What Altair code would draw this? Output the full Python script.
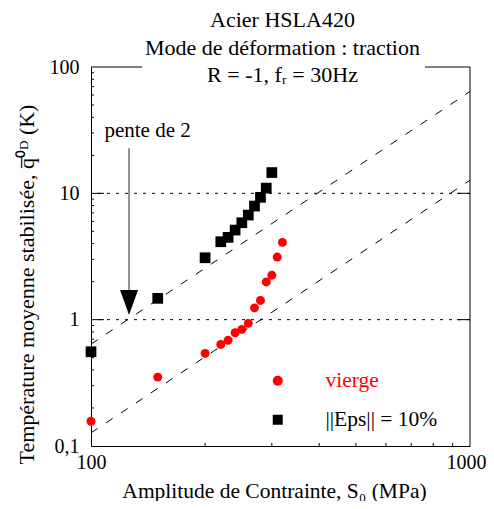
import altair as alt
import pandas as pd

FONT = "Liberation Serif"

# ---- data ----
eps_s = [100, 150, 200, 220, 230, 240, 250, 260, 270, 280, 290, 300]
eps_t = [0.557, 1.475, 3.09, 4.14, 4.48, 5.12, 5.85, 6.73, 7.93, 9.30, 11.0, 14.6]

vir_s = [100, 150, 200, 220, 230, 240, 250, 260, 270, 280, 290, 300, 310, 320]
vir_t = [0.157, 0.351, 0.541, 0.637, 0.686, 0.788, 0.838, 0.935, 1.24, 1.42, 1.99, 2.25, 3.13, 4.09]

series_names = ["vierge", "||Eps|| = 10%"]

# slope-2 reference lines (end points)
ref_s = [100, 1000, 100, 1000]
ref_t = [0.64, 64.0, 0.127, 12.7]
ref_g = ["haut", "haut", "bas", "bas"]

grid_t = [1, 10]
x_ticks = [100, 1000]
y_ticks = [0.1, 1, 10, 100]
y_minor = [0.2, 0.3, 0.4, 0.5, 0.6, 0.7, 0.8, 0.9,
           2, 3, 4, 5, 6, 7, 8, 9,
           20, 30, 40, 50, 60, 70, 80, 90]
x_minor = [200, 300, 400, 500, 600, 700, 800, 900]

arrow_s = [126]
arrow_t_top = [22.7]
arrow_t_bot = [1.72]
arrow_head_t = [1.37]
label_s = [141]
label_t = [27.8]
label_txt = ["pente de 2"]

title_lines = ["Acier HSLA420", "Mode de déformation : traction", "R = -1, f\u1d63 = 30Hz"]

W = 379
H = 379

xs = alt.Scale(type="log", domain=[100, 1000])
ys = alt.Scale(type="log", domain=[0.1, 100])

xaxis = alt.Axis(values=x_ticks, format="d", labelFont=FONT, labelFontSize=20,
                 labelColor="black", ticks=False, tickSize=0, grid=False,
                 domainColor="black", domainWidth=1, labelPadding=6, labelFlush=False,
                 labelOffset={"condition": {"test": "datum.value >= 1000", "value": -4}, "value": 0},
                 title="Amplitude de Contrainte, S\u2080 (MPa)", titleFont=FONT,
                 titleFontSize=21.5, titleFontWeight="normal", titleColor="black",
                 titleX=183, titleY=51, titleBaseline="alphabetic")
yaxis = alt.Axis(values=y_ticks, format="~g", labelExpr="replace(datum.label, '.', ',')",
                 labelFont=FONT, labelFontSize=20, labelColor="black", ticks=False,
                 tickSize=0, grid=False, domainColor="black", domainWidth=1,
                 labelPadding=12, labelBaseline="middle",
                 title="Température moyenne stabilisée, q\u0305\u2070\u1d30 (K)",
                 titleFont=FONT, titleFontSize=22, titleFontWeight="normal",
                 titleColor="black", titleX=-58, titleY=217, titleBaseline="alphabetic")


def X(field="s"):
    return alt.X(f"{field}:Q", scale=xs, axis=xaxis)


def Y(field="t"):
    return alt.Y(f"{field}:Q", scale=ys, axis=yaxis)


one = pd.DataFrame({"a": [0]})

grid = alt.Chart(pd.DataFrame({"t": grid_t})).mark_rule(
    color="black", strokeDash=[3, 6], strokeWidth=1).encode(y=Y())

ref = alt.Chart(pd.DataFrame({"s": ref_s, "t": ref_t, "g": ref_g})).mark_line(
    color="black", strokeDash=[8, 10], strokeWidth=1).encode(x=X(), y=Y(), detail="g:N")

tick_l = alt.Chart(pd.DataFrame({"t": grid_t})).mark_rule(color="black", strokeWidth=1).encode(
    y=Y(), x=alt.value(0), x2=alt.value(13))
tick_r = alt.Chart(pd.DataFrame({"t": grid_t})).mark_rule(color="black", strokeWidth=1).encode(
    y=Y(), x=alt.value(W - 13), x2=alt.value(W))
minor_l = alt.Chart(pd.DataFrame({"t": y_minor})).mark_rule(color="black", strokeWidth=1).encode(
    y=Y(), x=alt.value(0), x2=alt.value(3))
minor_b = alt.Chart(pd.DataFrame({"s": x_minor})).mark_rule(color="black", strokeWidth=1).encode(
    x=X(), y=alt.value(H), y2=alt.value(H - 3))

frame_r = alt.Chart(one).mark_rule(color="black", strokeWidth=1).encode(
    x=alt.value(W), y=alt.value(0), y2=alt.value(H))
frame_t1 = alt.Chart(one).mark_rule(color="black", strokeWidth=1).encode(
    x=alt.value(0), x2=alt.value(51), y=alt.value(0))
frame_t2 = alt.Chart(one).mark_rule(color="black", strokeWidth=1).encode(
    x=alt.value(334), x2=alt.value(W), y=alt.value(0))

arrow = alt.Chart(pd.DataFrame({"s": arrow_s, "t": arrow_t_top, "t2": arrow_t_bot})).mark_rule(
    color="#777777", strokeWidth=1.6).encode(x=X(), y=Y(), y2="t2:Q")
head = alt.Chart(pd.DataFrame({"s": arrow_s, "t": arrow_head_t})).mark_point(
    shape="M-0.72,-1L0.72,-1L0,1Z", filled=True, color="black", opacity=1, size=625).encode(
    x=X(), y=Y())
label = alt.Chart(pd.DataFrame({"s": label_s, "t": label_t, "txt": label_txt})).mark_text(
    font=FONT, fontSize=21, color="black", align="center", baseline="alphabetic").encode(
    x=X(), y=Y(), text="txt:N")

legend_kw = dict(orient="none", legendX=176, legendY=303, padding=0,
                 labelOffset=37, rowPadding=16, labelFont=FONT,
                 labelFontSize=21.5, symbolSize=100, symbolStrokeWidth=0,
                 labelColor={"expr": "datum.label == 'vierge' ? '#ff0000' : '#000000'"},
                 title=None)
color_enc = alt.Color("series:N", scale=alt.Scale(domain=series_names, range=["#ff0000", "#000000"]),
                      legend=alt.Legend(**legend_kw))
shape_enc = alt.Shape("series:N", scale=alt.Scale(domain=series_names, range=["circle", "square"]),
                      legend=alt.Legend(**legend_kw))

vir = alt.Chart(pd.DataFrame({"s": vir_s, "t": vir_t, "series": series_names[0]})).mark_point(
    filled=True, opacity=1, size=80).encode(x=X(), y=Y(), color=color_enc, shape=shape_enc)
eps = alt.Chart(pd.DataFrame({"s": eps_s, "t": eps_t, "series": series_names[1]})).mark_point(
    filled=True, opacity=1, size=115).encode(x=X(), y=Y(), color=color_enc, shape=shape_enc)

chart = alt.layer(grid, ref, tick_l, tick_r, minor_l, minor_b, frame_r, frame_t1, frame_t2,
                  arrow, head, label, vir, eps).properties(
    width=W, height=H,
    title=alt.TitleParams(text=title_lines, font=FONT, fontSize=22, fontWeight="normal",
                          lineHeight=27.5, anchor="middle", offset=-52, baseline="bottom",
                          color="black", dx=2),
    autosize=alt.AutoSizeParams(type="none"),
    padding={"left": 83, "top": 59, "right": 16, "bottom": 55},
).configure_view(stroke="transparent")

chart.save("out.html", embed_options={"renderer": "svg", "actions": False})
